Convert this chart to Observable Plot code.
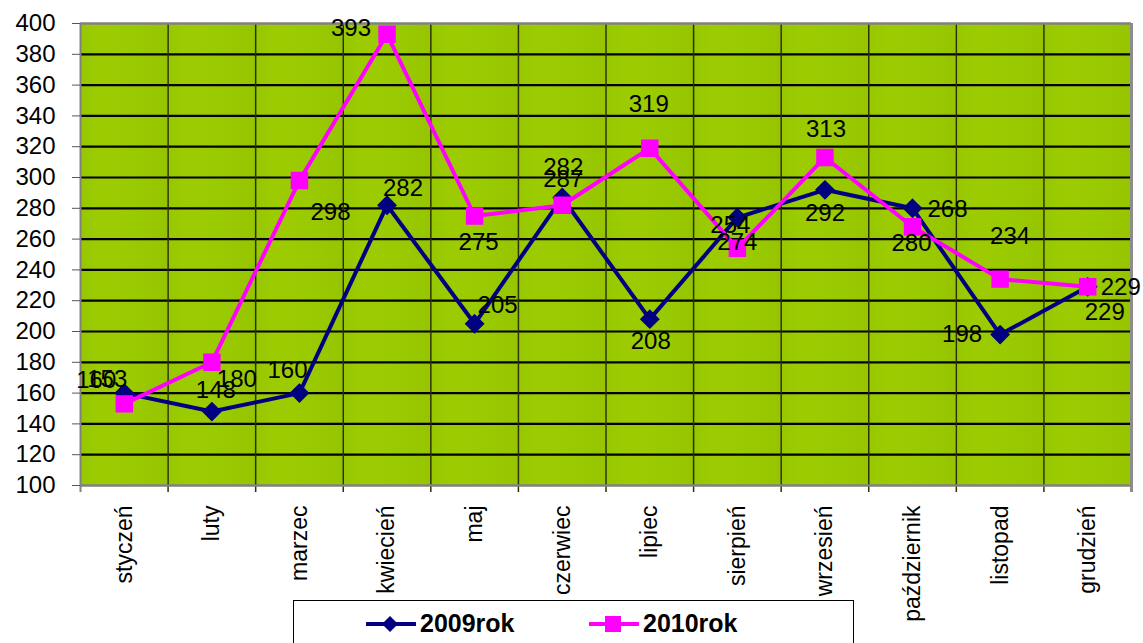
<!DOCTYPE html>
<html>
<head>
<meta charset="utf-8">
<script src="https://cdn.jsdelivr.net/npm/d3@7"></script>
<script src="https://cdn.jsdelivr.net/npm/@observablehq/plot@0.6"></script>
<style>
  html, body { margin: 0; padding: 0; background: #fff; overflow: hidden; }
  #wrap { position: relative; width: 1143px; height: 643px; font-family: "Liberation Sans", Arial, sans-serif; }
  #legend { position: absolute; left: 293px; top: 600px; width: 561px; height: 60px; border: 1px solid #000; background: #fff; box-sizing: border-box; }
  .item { position: absolute; top: 8px; display: flex; align-items: center; font-weight: bold; font-size: 25px; color: #000; }
  .item svg { margin-right: 4px; }
</style>
</head>
<body>
<div id="wrap">
  <div id="chart"></div>
  <div id="legend"></div>
</div>
<script>
// ---- data ----
const months = ["styczeń","luty","marzec","kwiecień","maj","czerwiec","lipiec","sierpień","wrzesień","październik","listopad","grudzień"];
const values2009 = [160,148,160,282,205,287,208,274,292,280,198,229];
const values2010 = [153,180,298,393,275,282,319,254,313,268,234,229];
const yTicks = [100,120,140,160,180,200,220,240,260,280,300,320,340,360,380,400];
const seriesNames = ["2009rok","2010rok"];

// ---- label placement (styling only) ----
const lblOff2009 = [[-28,-13],[4,-21],[-12,-23],[16,-17],[23,-18],[1,-18],[1,22],[0,25],[0,23],[-1,35],[-38,0],[17,25]];
const lblOff2010 = [[-17,-25],[25,17],[31,32],[-36,-6],[4,26],[1,-38],[-1,-44],[-7,-23],[1,-28],[35,-17],[10,-43],[33,0]];

const c2009 = "#000080", c2010 = "#FF00FF";
const data2009 = months.map((m,i) => ({month:m, value:values2009[i]}));
const data2010 = months.map((m,i) => ({month:m, value:values2010[i]}));

const W = 1143, H = 598, mL = 80, mR = 12, mT = 23, mB = 113;
const bw = (W - mL - mR) / months.length;

const labelMarks = [];
data2009.forEach((d,i) => labelMarks.push(Plot.text([d], {x:"month", y:"value", text: d => String(d.value), dx: lblOff2009[i][0], dy: lblOff2009[i][1], fontSize: 24, fill: "#000"})));
data2010.forEach((d,i) => labelMarks.push(Plot.text([d], {x:"month", y:"value", text: d => String(d.value), dx: lblOff2010[i][0], dy: lblOff2010[i][1], fontSize: 24, fill: "#000"})));

const chart = Plot.plot({
  width: W, height: H,
  marginLeft: mL, marginRight: mR, marginTop: mT, marginBottom: mB,
  x: {type: "band", domain: months, padding: 0, round: false},
  y: {domain: [100, 400]},
  style: {fontFamily: "'Liberation Sans', Arial, sans-serif", background: "white", overflow: "visible", color: "#000"},
  marks: [
    Plot.barY(months, {x: d => d, y1: 100, y2: 400, fill: "url(#colgrad)"}),
    Plot.ruleY(yTicks.slice(1, -1), {stroke: "#000", strokeWidth: 2.2}),
    Plot.ruleX(months.slice(1), {x: d => d, y1: 95.4, y2: 400, dx: -bw/2, stroke: "#2a3300", strokeWidth: 1.5}),
    Plot.ruleY([100, 400], {stroke: "#808080", strokeWidth: 2.5}),
    Plot.ruleX([months[months.length-1]], {x: d => d, y1: 95.4, y2: 400, dx: bw/2, stroke: "#8c8c8c", strokeWidth: 3}),
    Plot.ruleX([months[0]], {x: d => d, y1: 95.4, y2: 400, dx: -bw/2, stroke: "#808080", strokeWidth: 2}),
    Plot.axisY(yTicks, {tickSize: 8, tickPadding: 17, fontSize: 24, stroke: "#555", label: null}),
    Plot.axisX({tickSize: 0, tickRotate: -90, tickPadding: 20, fontSize: 23, label: null}),
    Plot.line(data2009, {x: "month", y: "value", stroke: c2009, strokeWidth: 4}),
    Plot.dot(data2009, {x: "month", y: "value", symbol: "diamond2", r: 8, fill: c2009, stroke: c2009}),
    Plot.line(data2010, {x: "month", y: "value", stroke: c2010, strokeWidth: 4}),
    Plot.dot(data2010, {x: "month", y: "value", symbol: "square", r: 9, fill: c2010, stroke: c2010}),
    ...labelMarks
  ]
});
// subtle column shading (gradient per column)
const ns = "http://www.w3.org/2000/svg";
const defs = document.createElementNS(ns, "defs");
defs.innerHTML = `<linearGradient id="colgrad" x1="0" y1="0" x2="1" y2="0">
  <stop offset="0" stop-color="#97C700"/>
  <stop offset="0.25" stop-color="#9CCC00"/>
  <stop offset="0.7" stop-color="#99C900"/>
  <stop offset="1" stop-color="#96C500"/>
</linearGradient>`;
chart.insertBefore(defs, chart.firstChild);
document.getElementById("chart").appendChild(chart);

// ---- legend ----
const legend = document.getElementById("legend");
const legendItems = [
  {name: seriesNames[0], color: c2009, shape: "diamond", left: 72},
  {name: seriesNames[1], color: c2010, shape: "square", left: 295}
];
legendItems.forEach(it => {
  const div = document.createElement("div");
  div.className = "item";
  div.style.left = it.left + "px";
  const shape = it.shape === "diamond"
    ? `<polygon points="24,6 32,14 24,22 16,14" fill="${it.color}"/>`
    : `<rect x="16" y="6" width="16" height="16" fill="${it.color}"/>`;
  div.innerHTML = `<svg width="50" height="28"><line x1="1" y1="14" x2="49" y2="14" stroke="${it.color}" stroke-width="4" stroke-linecap="round"/>${shape}</svg><span>${it.name}</span>`;
  legend.appendChild(div);
});
</script>
</body>
</html>
